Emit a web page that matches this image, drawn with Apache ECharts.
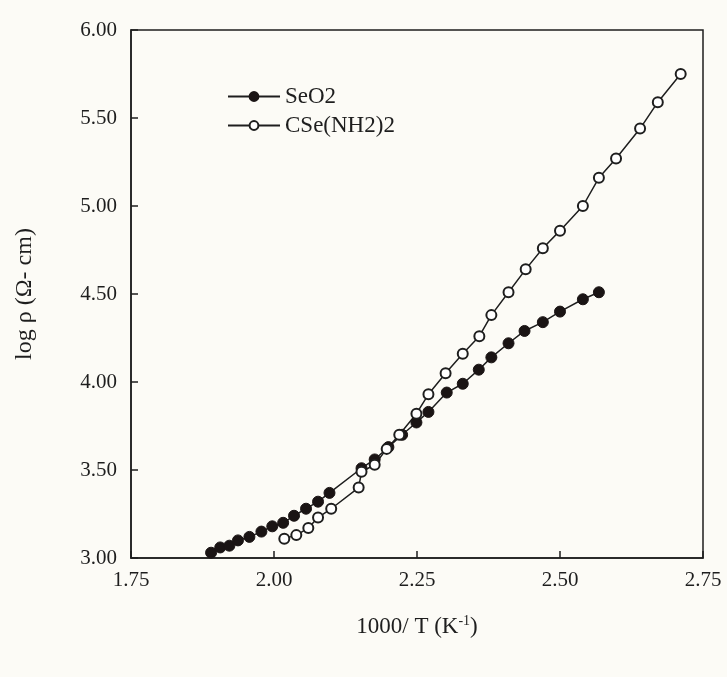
<!DOCTYPE html>
<html>
<head>
<meta charset="utf-8">
<script src="https://cdn.jsdelivr.net/npm/echarts@6/dist/echarts.min.js"></script>
<style>html,body{margin:0;padding:0;background:#fcfbf6;}#c{width:727px;height:677px;}</style>
</head>
<body>
<div id="c"></div>
<script>
var xTicks = [1.75, 2.00, 2.25, 2.50, 2.75];
var yTicks = [3.00, 3.50, 4.00, 4.50, 5.00, 5.50, 6.00];

var seo2X = [1.890,1.906,1.922,1.937,1.957,1.978,1.997,2.016,2.035,2.056,2.077,2.097,2.153,2.176,2.200,2.224,2.249,2.270,2.302,2.330,2.358,2.380,2.410,2.438,2.470,2.500,2.540,2.568];
var seo2Y = [3.03,3.06,3.07,3.10,3.12,3.15,3.18,3.20,3.24,3.28,3.32,3.37,3.51,3.56,3.63,3.70,3.77,3.83,3.94,3.99,4.07,4.14,4.22,4.29,4.34,4.40,4.47,4.51];

var cseX = [2.018,2.039,2.060,2.077,2.100,2.148,2.153,2.176,2.197,2.219,2.249,2.270,2.300,2.330,2.359,2.380,2.410,2.440,2.470,2.500,2.540,2.568,2.598,2.640,2.671,2.711];
var cseY = [3.11,3.13,3.17,3.23,3.28,3.40,3.49,3.53,3.62,3.70,3.82,3.93,4.05,4.16,4.26,4.38,4.51,4.64,4.76,4.86,5.00,5.16,5.27,5.44,5.59,5.75];

function pairs(xs, ys){ return xs.map(function(x,i){ return [x, ys[i]]; }); }

var font = "'Liberation Serif', 'DejaVu Serif', serif";
var ink = '#1e1e1e';

var chart = echarts.init(document.getElementById('c'), null, {renderer:'canvas'});
chart.setOption({
  backgroundColor: '#fcfbf6',
  animation: false,
  grid: {left: 131, right: 24, top: 30, bottom: 119, show: true, borderColor: ink, borderWidth: 1.5, backgroundColor: 'transparent'},
  legend: {
    left: 222, top: 80, orient: 'vertical', itemGap: 6, itemWidth: 52, itemHeight: 11,
    textStyle: {fontFamily: font, fontSize: 23, color: ink},
    data: ['SeO2', 'CSe(NH2)2']
  },
  xAxis: {
    type: 'value', min: 1.75, max: 2.75, interval: 0.25,
    name: '{a|1000/ T (K}{b|-1}{a|)}', nameLocation: 'middle', nameGap: 56,
    nameTextStyle: {rich: {a: {fontFamily: font, fontSize: 23, color: ink}, b: {fontFamily: font, fontSize: 14, color: ink, verticalAlign: 'top', padding: [0,0,12,0]}}},
    axisLine: {show: true, lineStyle: {color: ink, width: 1.5}},
    axisTick: {show: true, inside: true, length: 7, lineStyle: {color: ink, width: 1.5}},
    splitLine: {show: false},
    axisLabel: {margin: 12, fontFamily: font, fontSize: 21, color: ink, formatter: function(v){ return v.toFixed(2); },
      customValues: xTicks}
  },
  yAxis: {
    type: 'value', min: 3, max: 6, interval: 0.5,
    name: 'log ρ (Ω- cm)', nameLocation: 'middle', nameGap: 94, nameRotate: 90,
    nameTextStyle: {fontFamily: font, fontSize: 24, color: ink},
    axisLine: {show: true, lineStyle: {color: ink, width: 1.5}},
    axisTick: {show: true, inside: true, length: 7, lineStyle: {color: ink, width: 1.5}},
    splitLine: {show: false},
    axisLabel: {margin: 14, fontFamily: font, fontSize: 21, color: ink, formatter: function(v){ return v.toFixed(2); },
      customValues: yTicks}
  },
  series: [
    {
      name: 'SeO2', type: 'line', data: pairs(seo2X, seo2Y),
      symbol: 'circle', symbolSize: 11, showSymbol: true,
      lineStyle: {color: ink, width: 1.5},
      itemStyle: {color: '#1a1414', borderColor: '#1a1414', borderWidth: 1}
    },
    {
      name: 'CSe(NH2)2', type: 'line', data: pairs(cseX, cseY),
      symbol: 'circle', symbolSize: 10, showSymbol: true,
      lineStyle: {color: ink, width: 1.5},
      itemStyle: {color: '#ffffff', borderColor: ink, borderWidth: 2}
    }
  ]
});
</script>
</body>
</html>
